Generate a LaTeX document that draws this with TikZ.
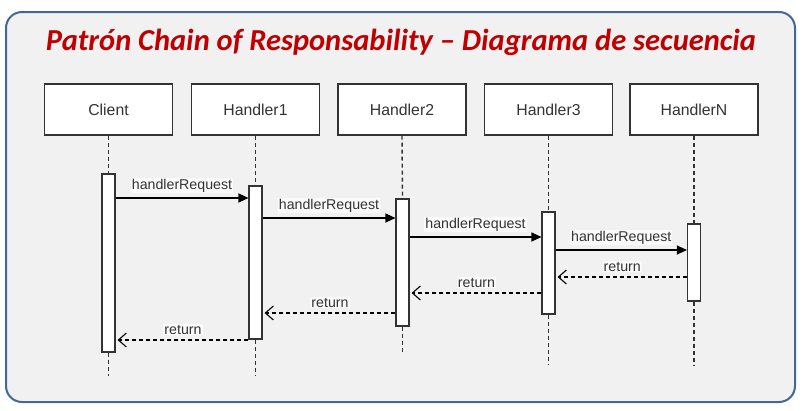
\documentclass[tikz,border=0pt]{standalone}
\usepackage{fontspec}
\setmainfont{Liberation Sans}
\newfontfamily\titlefont{Carlito}
\usetikzlibrary{arrows.meta}
\definecolor{framec}{HTML}{44669A}
\definecolor{bgc}{HTML}{F1F1F1}
\definecolor{titlec}{HTML}{C00000}
\definecolor{linec}{HTML}{333333}
\begin{document}
\begin{tikzpicture}[x=1pt,y=-1pt,
  hdr/.style={draw=linec,line width=1.1pt,fill=white,minimum width=128pt,minimum height=51pt,inner sep=0pt,font=\fontsize{15.8}{17}\selectfont,text=linec},
  act/.style={draw=linec,line width=1.1pt,fill=white,minimum width=13pt,inner sep=0pt},
  life/.style={draw=linec,line width=1.4pt,dash pattern=on 4pt off 3pt},
  call/.style={draw=black,line width=1.1pt,-{Triangle[length=10pt,width=9pt]}},
  ret/.style={draw=black,line width=1.1pt,dash pattern=on 4pt off 3pt,-{Straight Barb[length=8pt,width=14pt]}},
  lbl/.style={font=\fontsize{14.2}{15}\selectfont,text=linec,fill=white,fill opacity=0.7,text opacity=1,inner sep=1pt,above=4pt,midway}]
\useasboundingbox (0,0) rectangle (802,410);
\fill[white] (0,0) rectangle (802,410);
\draw[framec,line width=2pt,fill=bgc,rounded corners=16pt] (6,12) rectangle (795,402);
\node[font=\titlefont\bfseries\itshape\fontsize{30.5}{34}\selectfont,text=titlec,anchor=base,inner sep=0pt] (title) at (401,50) {Patrón Chain of Responsability – Diagrama de secuencia};
% headers
\node[hdr] (c) at (108.5,109.5) {Client};
\node[hdr] (h1) at (255.5,109.5) {Handler1};
\node[hdr] (h2) at (402,109.5) {Handler2};
\node[hdr] (h3) at (548.5,109.5) {Handler3};
\node[hdr] (hn) at (694,109.5) {HandlerN};
% activation bars
\node[act,minimum height=178pt] (ac) at (108.5,263) {};
\node[act,minimum height=153pt] (a1) at (255.5,262.5) {};
\node[act,minimum height=127pt] (a2) at (402.5,262.5) {};
\node[act,minimum height=102pt] (a3) at (548.5,263) {};
\node[act,minimum height=77pt] (an) at (694,262.5) {};
% lifeline ends
\coordinate (ec) at (108.5,376);
\coordinate (e1) at (255.5,376);
\coordinate (e2) at (402.5,352);
\coordinate (e3) at (548.5,365);
\coordinate (en) at (694,365);
\draw[life] (c.south) -- (ac.north);
\draw[life] (ac.south) -- (ec);
\draw[life] (h1.south) -- (a1.north);
\draw[life] (a1.south) -- (e1);
\draw[life] (h2.south) -- (a2.north);
\draw[life] (a2.south) -- (e2);
\draw[life] (h3.south) -- (a3.north);
\draw[life] (a3.south) -- (e3);
\draw[life] (hn.south) -- (an.north);
\draw[life] (an.south) -- (en);
% calls
\draw[call] (ac.east |- 0,198) -- (a1.west |- 0,198) node[lbl] {handlerRequest};
\draw[call] (a1.east |- 0,218) -- (a2.west |- 0,218) node[lbl] {handlerRequest};
\draw[call] (a2.east |- 0,237) -- (a3.west |- 0,237) node[lbl] {handlerRequest};
\draw[call] (a3.east |- 0,250) -- (an.west |- 0,250) node[lbl] {handlerRequest};
% returns
\draw[ret] (an.west |- 0,277) -- ([xshift=2pt]a3.east |- 0,277) node[lbl] {return};
\draw[ret] (a3.west |- 0,293) -- ([xshift=2pt]a2.east |- 0,293) node[lbl] {return};
\draw[ret] (a2.west |- 0,313) -- ([xshift=2pt]a1.east |- 0,313) node[lbl] {return};
\draw[ret] (a1.west |- 0,340) -- ([xshift=2pt]ac.east |- 0,340) node[lbl] {return};
\end{tikzpicture}
\end{document}
